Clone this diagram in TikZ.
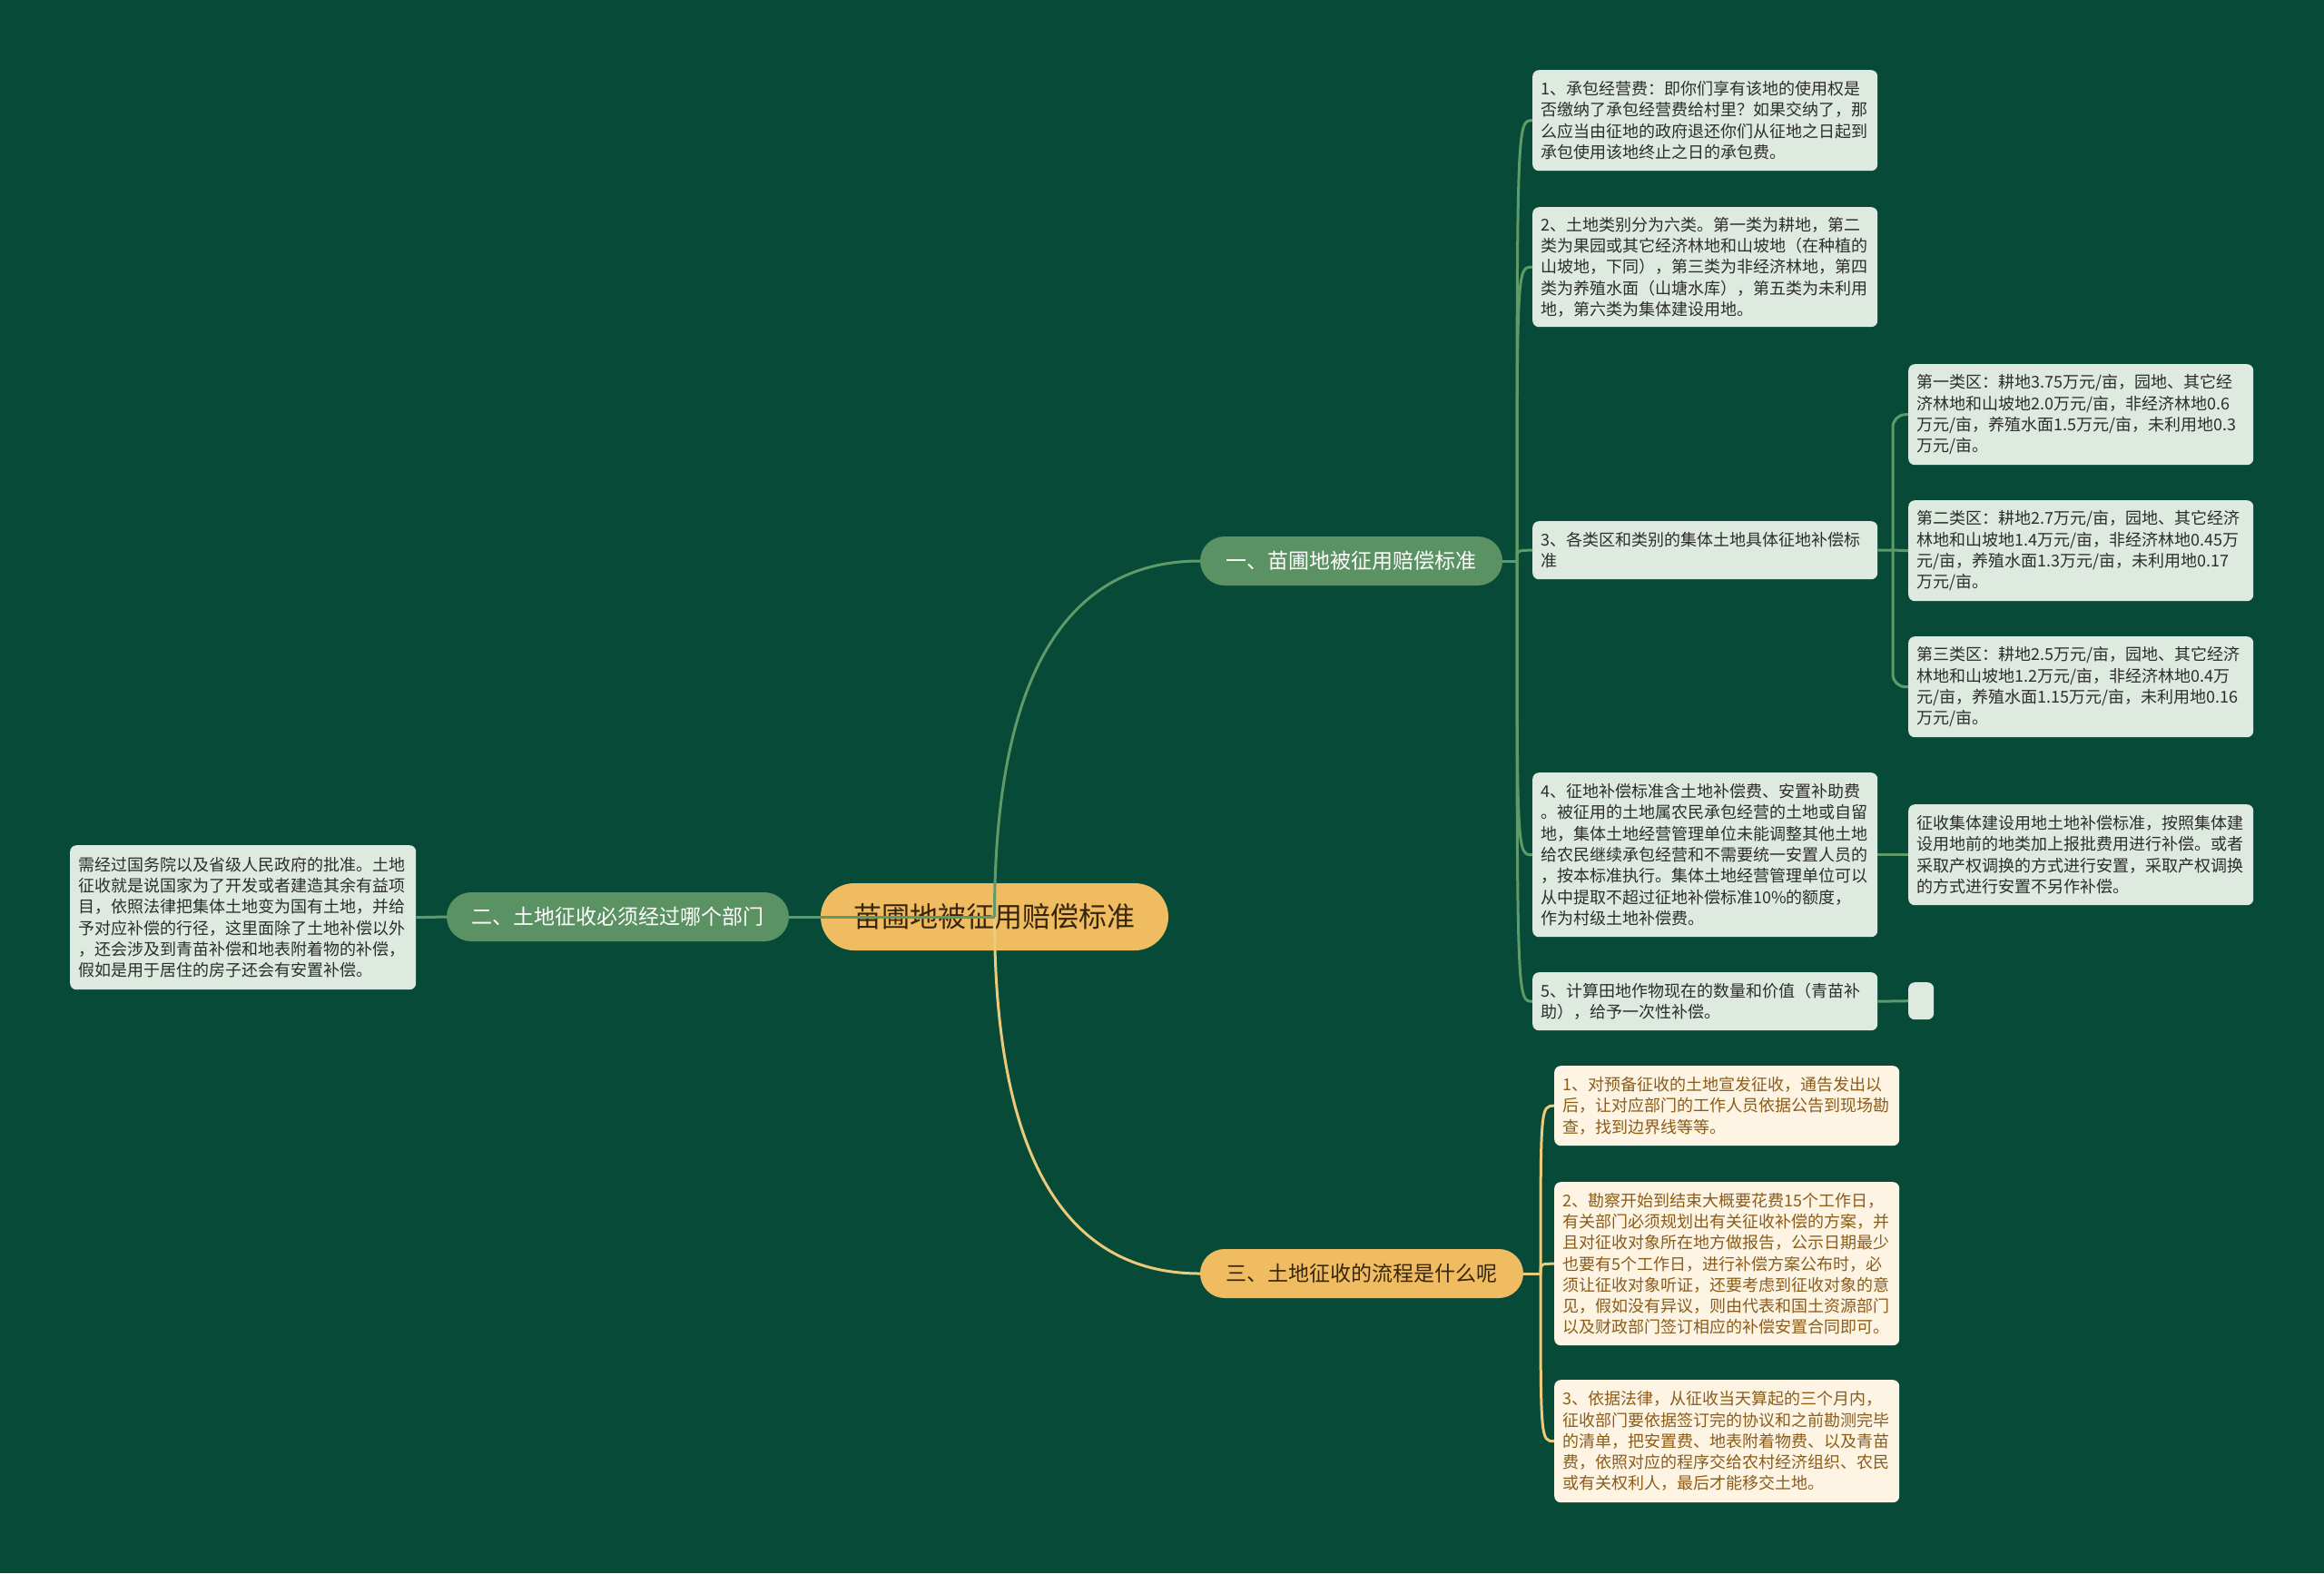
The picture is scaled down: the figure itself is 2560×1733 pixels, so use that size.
\documentclass[tikz,border=0pt]{standalone}
\usepackage{fontspec}
\newfontfamily\cjk{Noto Sans CJK SC}
\usetikzlibrary{calc}
\definecolor{bg}{RGB}{8,74,56}
\definecolor{greenfill}{RGB}{91,146,99}
\definecolor{greenline}{RGB}{95,155,105}
\definecolor{lightbox}{RGB}{222,233,224}
\definecolor{textdark}{RGB}{45,45,45}
\definecolor{orangefill}{RGB}{240,188,98}
\definecolor{orangeline}{RGB}{236,202,122}
\definecolor{cream}{RGB}{253,244,228}
\definecolor{browntext}{RGB}{140,92,25}
\definecolor{darkbrown}{RGB}{55,38,12}
\begin{document}
\begin{tikzpicture}[x=1pt,y=-1pt,
  box/.style={draw=none, rounded corners=7pt, fill=lightbox, text=textdark,
    font={\cjk\fontsize{18}{23.3}\selectfont}, text width=362pt, inner xsep=9pt,
    inner ysep=0pt, align=left, anchor=north west},
  obox/.style={box, fill=cream, text=browntext},
  pill/.style={rounded corners=27pt, minimum height=54pt, inner sep=0pt,
    font={\cjk\fontsize{23}{28}\selectfont}, align=center},
  gpill/.style={pill, fill=greenfill, text=white},
  opill/.style={pill, fill=orangefill, text=darkbrown},
  gline/.style={draw=greenline, line width=3pt},
  oline/.style={draw=orangeline, line width=3pt}]
\fill[bg] (0,0) rectangle (2560,1733);
\useasboundingbox (0,0) rectangle (2560,1733);

% center and branches
\node[fill=orangefill, text=darkbrown, rounded corners=37pt, minimum width=383pt,
  minimum height=74pt, inner sep=0pt, font={\cjk\fontsize{31}{36}\selectfont}]
  (c) at (1095.5,1010) {苗圃地被征用赔偿标准};
\node[gpill, minimum width=333pt] (b1) at (1488.5,618) {一、苗圃地被征用赔偿标准};
\node[gpill, minimum width=377pt] (b2) at (680.5,1010) {二、土地征收必须经过哪个部门};
\node[opill, minimum width=356pt] (b3) at (1500,1403) {三、土地征收的流程是什么呢};

% left box
\node[box, text width=363pt, minimum height=159pt] (L) at (77,931) {需经过国务院以及省级人民政府的批准。土地\\征收就是说国家为了开发或者建造其余有益项\\目，依照法律把集体土地变为国有土地，并给\\予对应补偿的行径，这里面除了土地补偿以外\\，还会涉及到青苗补偿和地表附着物的补偿，\\假如是用于居住的房子还会有安置补偿。};

% branch one children
\node[box, minimum height=111pt] (bx1) at (1688,77) {1、承包经营费：即你们享有该地的使用权是\\否缴纳了承包经营费给村里？如果交纳了，那\\么应当由征地的政府退还你们从征地之日起到\\承包使用该地终止之日的承包费。};
\node[box, minimum height=132pt] (bx2) at (1688,228) {2、土地类别分为六类。第一类为耕地，第二\\类为果园或其它经济林地和山坡地（在种植的\\山坡地，下同），第三类为非经济林地，第四\\类为养殖水面（山塘水库），第五类为未利用\\地，第六类为集体建设用地。};
\node[box, minimum height=64pt] (bx3) at (1688,574) {3、各类区和类别的集体土地具体征地补偿标\\准};
\node[box, minimum height=181pt] (bx4) at (1688,851) {4、征地补偿标准含土地补偿费、安置补助费\\。被征用的土地属农民承包经营的土地或自留\\地，集体土地经营管理单位未能调整其他土地\\给农民继续承包经营和不需要统一安置人员的\\，按本标准执行。集体土地经营管理单位可以\\从中提取不超过征地补偿标准10\%的额度，\\作为村级土地补偿费。};
\node[box, minimum height=64pt] (bx5) at (1688,1071) {5、计算田地作物现在的数量和价值（青苗补\\助），给予一次性补偿。};

% sub boxes
\node[box, minimum height=111pt] (s1) at (2102,401) {第一类区：耕地3.75万元/亩，园地、其它经\\济林地和山坡地2.0万元/亩，非经济林地0.6\\万元/亩，养殖水面1.5万元/亩，未利用地0.3\\万元/亩。};
\node[box, minimum height=111pt] (s2) at (2102,551) {第二类区：耕地2.7万元/亩，园地、其它经济\\林地和山坡地1.4万元/亩，非经济林地0.45万\\元/亩，养殖水面1.3万元/亩，未利用地0.17\\万元/亩。};
\node[box, minimum height=111pt] (s3) at (2102,701) {第三类区：耕地2.5万元/亩，园地、其它经济\\林地和山坡地1.2万元/亩，非经济林地0.4万\\元/亩，养殖水面1.15万元/亩，未利用地0.16\\万元/亩。};
\node[box, minimum height=111pt] (s4) at (2102,886) {征收集体建设用地土地补偿标准，按照集体建\\设用地前的地类加上报批费用进行补偿。或者\\采取产权调换的方式进行安置，采取产权调换\\的方式进行安置不另作补偿。};
\node[box, text width=28pt, inner xsep=0pt, minimum height=41pt] (e) at (2102,1082) {};

% branch three children
\node[obox, minimum height=88pt] (o1) at (1712,1174) {1、对预备征收的土地宣发征收，通告发出以\\后，让对应部门的工作人员依据公告到现场勘\\查，找到边界线等等。};
\node[obox, minimum height=180pt] (o2) at (1712,1302) {2、勘察开始到结束大概要花费15个工作日，\\有关部门必须规划出有关征收补偿的方案，并\\且对征收对象所在地方做报告，公示日期最少\\也要有5个工作日，进行补偿方案公布时，必\\须让征收对象听证，还要考虑到征收对象的意\\见，假如没有异议，则由代表和国土资源部门\\以及财政部门签订相应的补偿安置合同即可。};
\node[obox, minimum height=135pt] (o3) at (1712,1520) {3、依据法律，从征收当天算起的三个月内，\\征收部门要依据签订完的协议和之前勘测完毕\\的清单，把安置费、地表附着物费、以及青苗\\费，依照对应的程序交给农村经济组织、农民\\或有关权利人，最后才能移交土地。};

% junction points
\coordinate (j1) at (1671,618);
\coordinate (j2) at (2085,606);
\coordinate (j3) at (1697,1403);

% connectors: center
\draw[gline] (c.center) .. controls ($(c.center)+(0,-261)$) and ($(b1.west)+(-150,0)$) .. (b1.west);
\draw[oline] (c.center) .. controls ($(c.center)+(0,262)$) and ($(b3.west)+(-150,0)$) .. (b3.west);
\draw[gline] (c.center) -- (b2.east);
\draw[gline] (b2.west) -- (L.east);

% branch one
\draw[gline] (b1.east) -- (j1);
\foreach \t in {bx1,bx2,bx3,bx4,bx5}{
  \draw[gline] (j1) .. controls (j1 |- \t.west) .. (\t.west);
}
\draw[gline] (bx3.east) -- (j2);
\draw[gline, rounded corners=14pt] (j2) |- (s1.west);
\draw[gline, rounded corners=14pt] (j2) |- (s3.west);
\draw[gline] (j2) -- (s2.west);
\draw[gline] (bx4.east) -- (s4.west);
\draw[gline] (bx5.east) -- (e.west);

% branch three
\draw[oline] (b3.east) -- (j3);
\foreach \t in {o1,o2,o3}{
  \draw[oline] (j3) .. controls (j3 |- \t.west) .. (\t.west);
}
\end{tikzpicture}
\end{document}
